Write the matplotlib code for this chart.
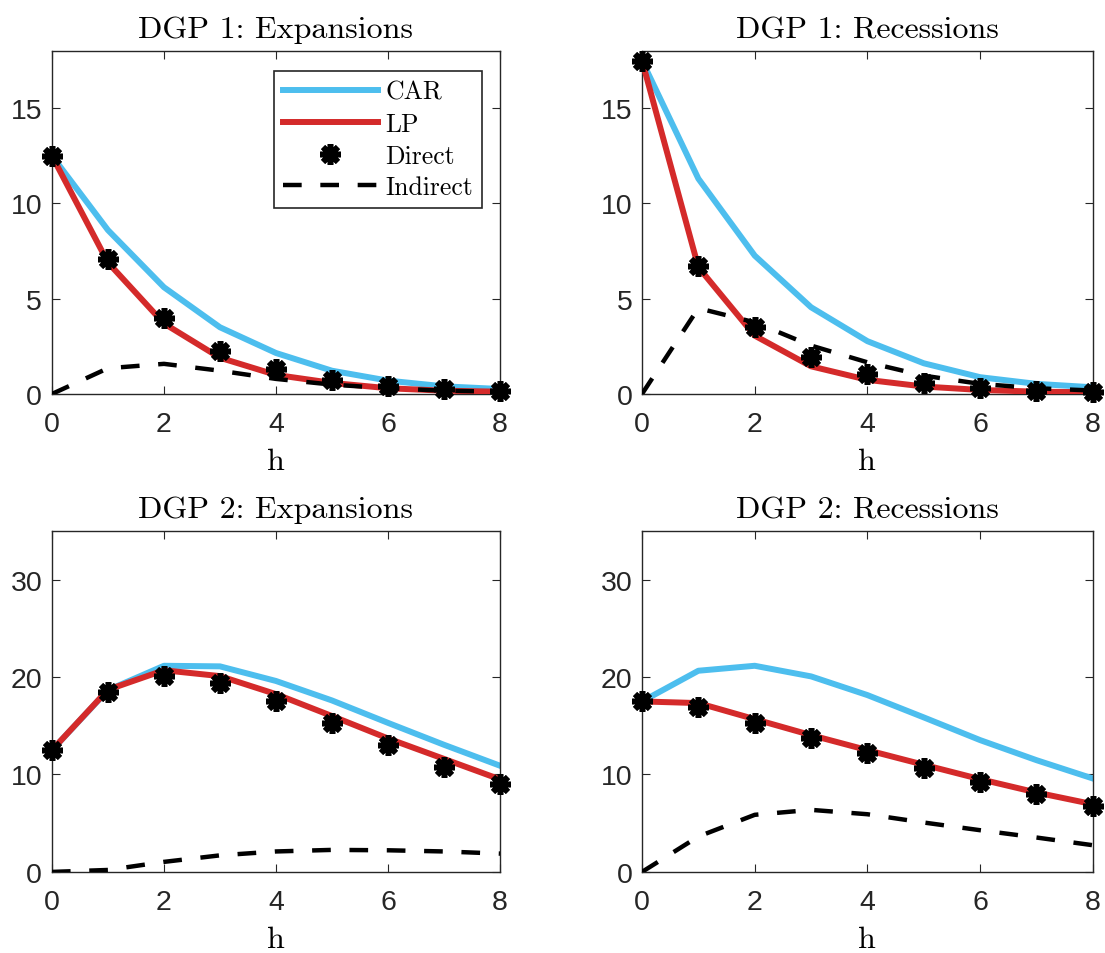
import matplotlib
matplotlib.use("Agg")
import matplotlib.pyplot as plt

h = [0, 1, 2, 3, 4, 5, 6, 7, 8]

# DGP 1: Expansions
car_1e = [12.5, 8.6, 5.6, 3.5, 2.15, 1.22, 0.7, 0.4, 0.26]
lp_1e = [12.5, 6.9, 3.7, 1.9, 1.0, 0.58, 0.3, 0.17, 0.12]
direct_1e = [12.5, 7.09, 3.99, 2.28, 1.31, 0.74, 0.4, 0.26, 0.14]
indirect_1e = [0.0, 1.35, 1.58, 1.22, 0.79, 0.49, 0.3, 0.17, 0.12]

# DGP 1: Recessions
car_1r = [17.5, 11.3, 7.26, 4.55, 2.77, 1.61, 0.88, 0.53, 0.35]
lp_1r = [17.5, 6.65, 3.06, 1.45, 0.74, 0.39, 0.21, 0.12, 0.09]
direct_1r = [17.5, 6.7, 3.5, 1.93, 1.05, 0.58, 0.31, 0.18, 0.09]
indirect_1r = [0.0, 4.5, 3.76, 2.54, 1.66, 0.96, 0.53, 0.3, 0.18]

# DGP 2: Expansions
car_2e = [12.5, 18.66, 21.16, 21.1, 19.6, 17.6, 15.3, 13.05, 10.9]
lp_2e = [12.5, 18.7, 20.7, 20.1, 18.25, 16.0, 13.7, 11.6, 9.5]
direct_2e = [12.5, 18.5, 20.07, 19.35, 17.5, 15.27, 13.05, 10.82, 9.0]
indirect_2e = [0.0, 0.2, 1.03, 1.7, 2.1, 2.26, 2.22, 2.1, 1.88]

# DGP 2: Recessions
car_2r = [17.5, 20.65, 21.16, 20.07, 18.15, 15.86, 13.53, 11.47, 9.59]
lp_2r = [17.5, 17.33, 15.68, 14.04, 12.5, 11.0, 9.52, 8.15, 6.95]
direct_2r = [17.5, 16.9, 15.24, 13.7, 12.16, 10.7, 9.25, 7.98, 6.78]
indirect_2r = [0.0, 3.63, 5.86, 6.37, 5.92, 5.07, 4.28, 3.53, 2.74]

panels = [
    ("DGP 1: Expansions", car_1e, lp_1e, direct_1e, indirect_1e, 18, [0, 5, 10, 15]),
    ("DGP 1: Recessions", car_1r, lp_1r, direct_1r, indirect_1r, 18, [0, 5, 10, 15]),
    ("DGP 2: Expansions", car_2e, lp_2e, direct_2e, indirect_2e, 35, [0, 10, 20, 30]),
    ("DGP 2: Recessions", car_2r, lp_2r, direct_2r, indirect_2r, 35, [0, 10, 20, 30]),
]

positions = [
    [0.047, 0.586, 0.4055, 0.3595],
    [0.581, 0.586, 0.408, 0.3595],
    [0.047, 0.085, 0.4055, 0.3574],
    [0.581, 0.085, 0.408, 0.3574],
]

blue = "#4DBEEE"
red = "#D42A2A"
gray = "#262626"

fig = plt.figure(figsize=(11.05, 9.54), dpi=100)

for i, (title, car, lp, direct, indirect, ytop, yt) in enumerate(panels):
    ax = fig.add_axes(positions[i])
    ax.plot(h, car, color=blue, lw=4.3, label="CAR", zorder=2)
    ax.plot(h, lp, color=red, lw=4.3, label="LP", zorder=3)
    ax.plot(h, direct, ls="none", marker=(8, 2, 0), ms=15, mew=4,
            color="black", label="Direct", zorder=5, clip_on=False)
    ax.plot(h, indirect, color="black", lw=3.2, ls=(0, (4.2, 4.2)),
            label="Indirect", zorder=4)
    ax.set_xlim(0, 8)
    ax.set_ylim(0, ytop)
    ax.set_xticks([0, 2, 4, 6, 8])
    ax.set_yticks(yt)
    ax.tick_params(direction="in", top=True, right=True, length=6,
                   labelsize=20.5, colors=gray)
    ax.tick_params(axis="x", pad=12)
    ax.tick_params(axis="y", pad=7)
    for lab in ax.get_xticklabels() + ax.get_yticklabels():
        lab.set_fontfamily("Liberation Sans")
    for s in ax.spines.values():
        s.set_color(gray)
        s.set_linewidth(1.0)
    ax.set_title(title, fontfamily="cmr10", fontsize=23, pad=10)
    ax.set_xlabel("h", fontfamily="cmr10", fontsize=23, labelpad=8)
    if i == 0:
        leg = ax.legend(loc="upper right", prop={"family": "cmr10", "size": 18.5},
                        handlelength=3.7, handletextpad=0.3, labelspacing=0.32,
                        borderpad=0.35, borderaxespad=0, fancybox=False,
                        framealpha=1, edgecolor=gray,
                        bbox_to_anchor=(0.96, 0.942))
        leg.get_frame().set_linewidth(1.2)

fig.savefig("out.png", dpi=100)
